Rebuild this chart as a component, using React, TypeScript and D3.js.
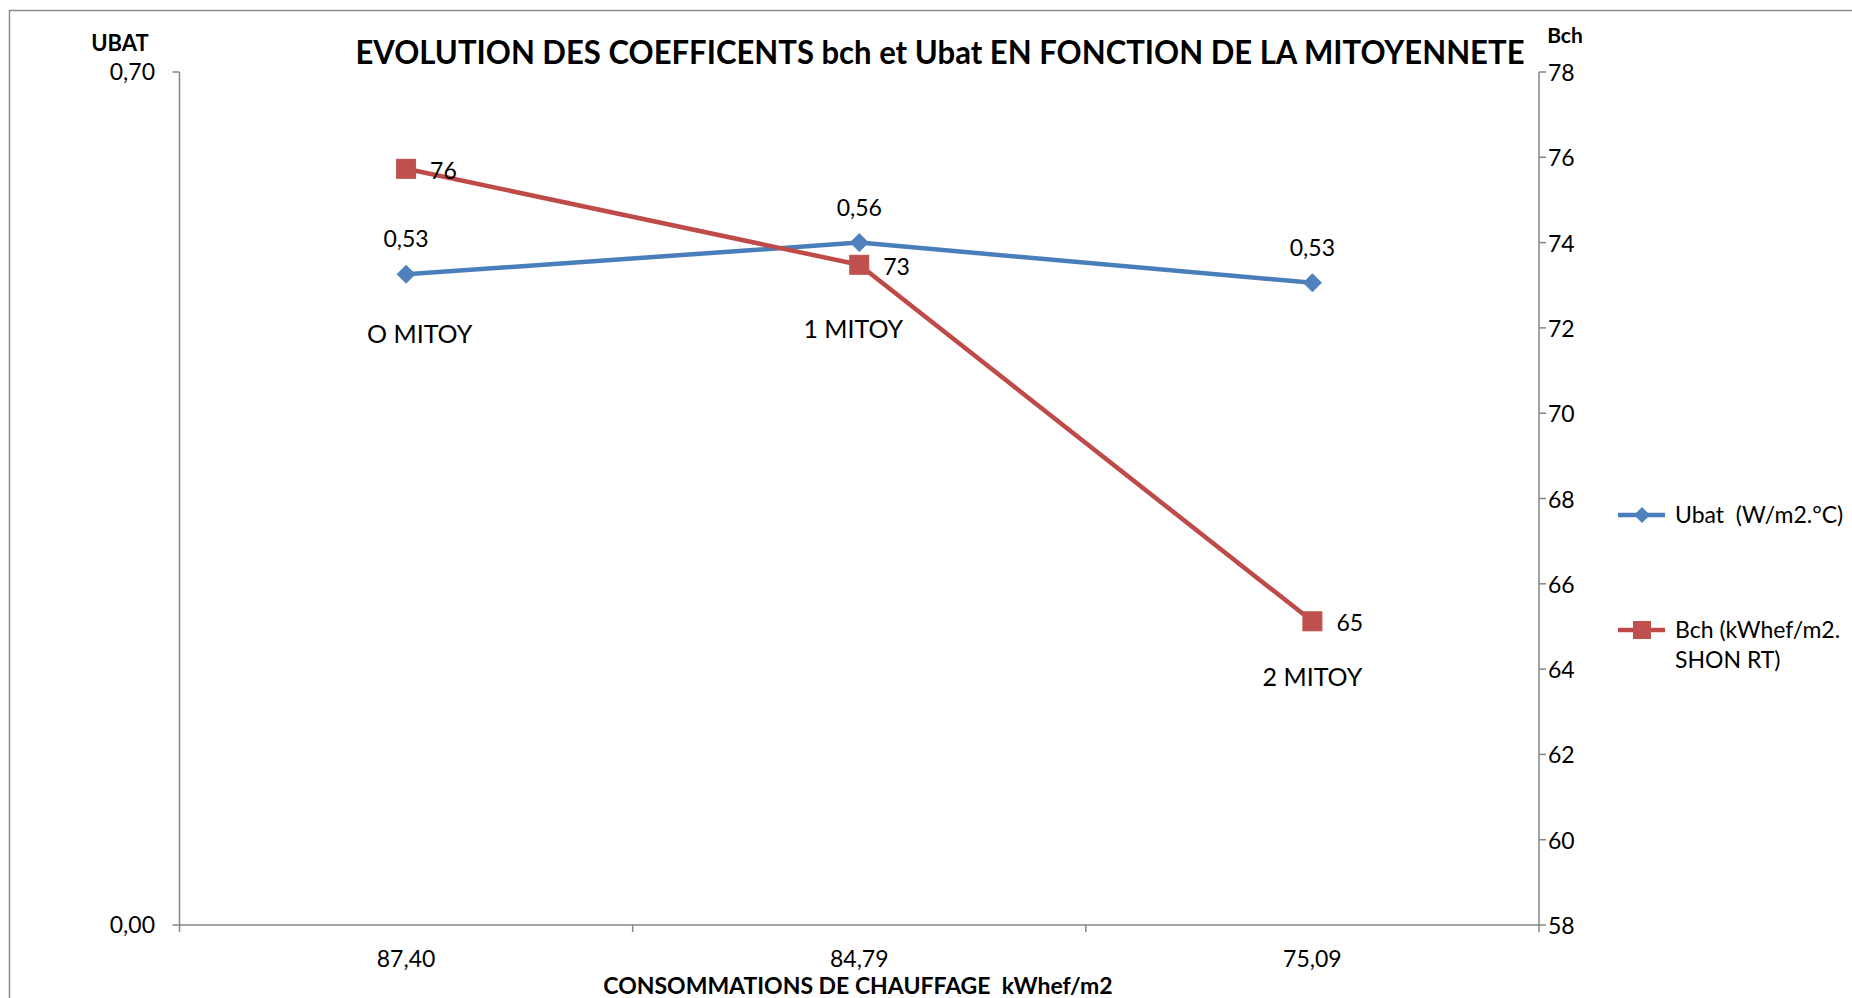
import React from "react";
import * as d3 from "d3";

const categories = ["87,40", "84,79", "75,09"];
const ubatValues = [0.534, 0.56, 0.527];
const bchValues = [75.73, 73.48, 65.12];
const leftTicks = [0, 0.7];
const rightTicks = [58, 60, 62, 64, 66, 68, 70, 72, 74, 76, 78];
const mitoyNotes = [
  { text: "O MITOY", cat: 0, dx: 0.03, bch: 71.86 },
  { text: "1 MITOY", cat: 1, dx: -0.013, bch: 71.96 },
  { text: "2 MITOY", cat: 2, dx: 0, bch: 63.81 },
];
const seriesNames = ["Ubat  (W/m2.°C)", "Bch (kWhef/m2.", "SHON RT)"];
const titleText = "EVOLUTION DES COEFFICENTS bch et Ubat EN FONCTION DE LA MITOYENNETE";
const xTitle = "CONSOMMATIONS DE CHAUFFAGE  kWhef/m2";

const BLUE = "#4A7EBB";
const BLUE_M = "#4F81BD";
const RED = "#BE4B48";
const RED_M = "#C0504D";
const AXIS = "#868686";
const FONT = "Lato, 'Open Sans', sans-serif";

export default function App() {
  const left = 179.5, right = 1539, top = 72, bottom = 925;
  const x = d3.scaleBand<string>().domain(categories).range([left, right]);
  const cx = (i: number) => (x(categories[i]) as number) + x.bandwidth() / 2;
  const yL = d3.scaleLinear().domain([0, 0.7]).range([bottom, top]);
  const yR = d3.scaleLinear().domain([58, 78]).range([bottom, top]);
  const fmt2 = (v: number) => d3.format(".2f")(v).replace(".", ",");
  const fmt0 = d3.format(".0f");

  const ubatLine = d3.line<number>().x((_, i) => cx(i)).y((d) => yL(d))(ubatValues) as string;
  const bchLine = d3.line<number>().x((_, i) => cx(i)).y((d) => yR(d))(bchValues) as string;

  const diamond = (px: number, py: number, r: number) =>
    `M${px},${py - r}L${px + r},${py}L${px},${py + r}L${px - r},${py}Z`;

  const boundaries = d3.range(categories.length + 1).map((i) =>
    i < categories.length ? (x(categories[i]) as number) : right
  );

  const tickFs = 23;
  const pre = { whiteSpace: "pre" as const };

  return (
    <div style={{ position: "absolute", left: 0, top: 0 }}>
      <svg width={1852} height={998} style={{ display: "block", background: "#fff" }}>
        {/* chart frame */}
        <path d="M9.5,998V10.5H1852" fill="none" stroke="#8c8c8c" strokeWidth={1.5} />

        {/* title */}
        <g transform="translate(940,64) scale(0.942,1)">
          <text x={0} y={0} textAnchor="middle" fontFamily={FONT} fontWeight={700} fontSize={33} fill="#000">
            {titleText}
          </text>
        </g>

        {/* axis titles */}
        <text x={120} y={51} textAnchor="middle" fontFamily={FONT} fontWeight={700} fontSize={22} fill="#000">UBAT</text>
        <text x={1565} y={43} textAnchor="middle" fontFamily={FONT} fontWeight={700} fontSize={21} fill="#000">Bch</text>
        <text x={858} y={994} textAnchor="middle" fontFamily={FONT} fontWeight={700} fontSize={23} fill="#000" style={pre}>{xTitle}</text>

        {/* axes */}
        <g stroke={AXIS} strokeWidth={1.5} fill="none">
          <line x1={left} y1={top} x2={left} y2={bottom} />
          <line x1={right} y1={top} x2={right} y2={bottom} />
          <line x1={left} y1={bottom} x2={right} y2={bottom} />
          {leftTicks.map((t) => (
            <line key={"lt" + t} x1={left - 7} x2={left} y1={yL(t)} y2={yL(t)} />
          ))}
          {rightTicks.map((t) => (
            <line key={"rt" + t} x1={right} x2={right + 7} y1={yR(t)} y2={yR(t)} />
          ))}
          {boundaries.map((b, i) => (
            <line key={"xt" + i} x1={b} x2={b} y1={bottom} y2={bottom + 7} />
          ))}
        </g>

        {/* tick labels */}
        <g fontFamily={FONT} fontSize={tickFs} fill="#000">
          {leftTicks.map((t) => (
            <text key={"ltl" + t} x={155} y={yL(t)} dy="0.35em" textAnchor="end">{fmt2(t)}</text>
          ))}
          {rightTicks.map((t) => (
            <text key={"rtl" + t} x={1548} y={yR(t) + 1} dy="0.35em" textAnchor="start">{t}</text>
          ))}
          {categories.map((c, i) => (
            <text key={"xl" + c} x={cx(i)} y={959} dy="0.35em" textAnchor="middle">{c}</text>
          ))}
        </g>

        {/* series lines */}
        <path d={ubatLine} fill="none" stroke={BLUE} strokeWidth={4.5} strokeLinejoin="round" />
        <path d={bchLine} fill="none" stroke={RED} strokeWidth={4.5} strokeLinejoin="round" />

        {/* markers */}
        {ubatValues.map((v, i) => (
          <path key={"um" + i} d={diamond(cx(i), yL(v), 9)} fill={BLUE_M} stroke={BLUE_M} strokeWidth={1} />
        ))}
        {bchValues.map((v, i) => (
          <rect key={"bm" + i} x={cx(i) - 9.5} y={yR(v) - 9.5} width={19} height={19} fill={RED_M} stroke={RED_M} strokeWidth={1} />
        ))}

        {/* data labels */}
        <g fontFamily={FONT} fontSize={tickFs} fill="#000">
          {ubatValues.map((v, i) => (
            <text key={"ul" + i} x={cx(i)} y={yL(v) - 35} dy="0.35em" textAnchor="middle">{fmt2(v)}</text>
          ))}
          {bchValues.map((v, i) => (
            <text key={"bl" + i} x={cx(i) + 24} y={yR(v) + 2} dy="0.35em" textAnchor="start">{fmt0(v)}</text>
          ))}
        </g>

        {/* mitoyenneté notes */}
        <g fontFamily={FONT} fontSize={25} fill="#000">
          {mitoyNotes.map((n) => (
            <text key={n.text} x={cx(n.cat) + n.dx * x.bandwidth()} y={yR(n.bch)} dy="0.35em" textAnchor="middle">{n.text}</text>
          ))}
        </g>

        {/* legend */}
        <g>
          <line x1={1618} x2={1665} y1={515} y2={515} stroke={BLUE} strokeWidth={4.5} />
          <path d={diamond(1642, 515, 8)} fill={BLUE_M} />
          <line x1={1618} x2={1665} y1={630} y2={630} stroke={RED} strokeWidth={4.5} />
          <rect x={1633} y={621} width={18} height={18} fill={RED_M} />
          <g fontFamily={FONT} fontSize={tickFs} fill="#000">
            <text x={1675} y={515} dy="0.35em" style={pre}>{seriesNames[0]}</text>
            <text x={1675} y={630} dy="0.35em" style={pre}>{seriesNames[1]}</text>
            <text x={1675} y={660} dy="0.35em" style={pre}>{seriesNames[2]}</text>
          </g>
        </g>
      </svg>
    </div>
  );
}
